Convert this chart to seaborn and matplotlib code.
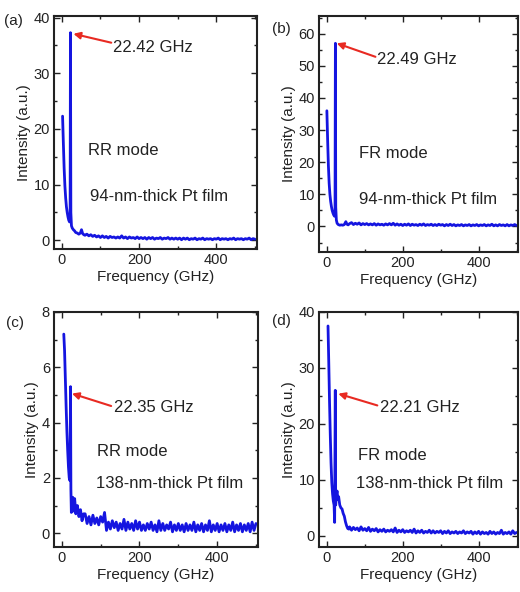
import numpy as np
import pandas as pd
import matplotlib
matplotlib.use("Agg")
import matplotlib.pyplot as plt
import seaborn as sns
from matplotlib.ticker import MultipleLocator

# Tail grid shared by the four spectra (GHz)
tail_freq = [60, 65, 70, 75, 80, 85, 90, 95, 100, 105,
             110, 115, 120, 125, 130, 135, 140, 145, 150, 155,
             160, 165, 170, 175, 180, 185, 190, 195, 200, 205,
             210, 215, 220, 225, 230, 235, 240, 245, 250, 255,
             260, 265, 270, 275, 280, 285, 290, 295, 300, 305,
             310, 315, 320, 325, 330, 335, 340, 345, 350, 355,
             360, 365, 370, 375, 380, 385, 390, 395, 400, 405,
             410, 415, 420, 425, 430, 435, 440, 445, 450, 455,
             460, 465, 470, 475, 480, 485, 490, 495, 500]

# (a) RR mode, 94 nm
a_freq = [2, 4, 6, 8, 10, 12, 14, 16, 18, 20, 21.5, 22.42, 23.4, 25, 27, 30,
          33, 36, 40, 44, 48, 51, 54, 57]
a_int = [22.3, 17.5, 13.0, 9.8, 7.6, 6.0, 5.0, 4.2, 3.6, 3.3, 3.4, 37.3, 5.0,
         2.6, 2.2, 1.9, 1.7, 1.4, 1.3, 1.1, 1.3, 1.9, 1.2, 1.0]
a_tail = [0.9, 1.1, 0.8, 1.0, 0.7, 0.9, 0.6, 0.8, 0.5, 0.8,
          0.5, 0.7, 0.4, 0.7, 0.5, 0.6, 0.4, 0.6, 0.4, 0.8,
          0.4, 0.6, 0.3, 0.6, 0.4, 0.5, 0.3, 0.6, 0.3, 0.5,
          0.3, 0.5, 0.2, 0.5, 0.3, 0.5, 0.2, 0.4, 0.3, 0.5,
          0.2, 0.4, 0.3, 0.5, 0.2, 0.4, 0.2, 0.4, 0.2, 0.4,
          0.1, 0.4, 0.2, 0.4, 0.1, 0.3, 0.2, 0.4, 0.1, 0.3,
          0.2, 0.4, 0.1, 0.3, 0.2, 0.3, 0.1, 0.3, 0.2, 0.4,
          0.1, 0.3, 0.2, 0.3, 0.1, 0.3, 0.2, 0.4, 0.1, 0.3,
          0.2, 0.3, 0.1, 0.3, 0.2, 0.4, 0.1, 0.3, 0.2]

# (b) FR mode, 94 nm
b_freq = [0, 2, 4, 6, 8, 10, 12, 14, 16, 18, 20, 21.5, 22.49, 23.4, 25, 27, 30,
          34, 38, 42, 46, 50, 53, 56]
b_int = [36, 27, 19, 13.5, 10, 7.8, 6.2, 5.0, 4.2, 3.6, 3.2, 3.5, 57, 6.0, 2.0,
         1.0, 0.6, 0.4, 0.5, 0.4, 0.6, 1.5, 0.7, 0.5]
b_tail = [0.9, 1.2, 0.6, 1.0, 0.7, 1.1, 0.5, 0.9, 0.6, 0.9,
          0.5, 0.8, 0.5, 0.9, 0.4, 0.8, 0.5, 0.7, 0.4, 0.8,
          0.5, 0.9, 0.5, 1.0, 0.4, 0.8, 0.4, 0.7, 0.3, 0.7,
          0.4, 0.8, 0.3, 0.7, 0.4, 0.6, 0.3, 0.7, 0.4, 0.8,
          0.3, 0.6, 0.4, 0.7, 0.3, 0.6, 0.3, 0.7, 0.4, 0.6,
          0.2, 0.6, 0.3, 0.7, 0.3, 0.6, 0.2, 0.5, 0.3, 0.6,
          0.2, 0.5, 0.3, 0.6, 0.2, 0.5, 0.3, 0.6, 0.2, 0.5,
          0.3, 0.6, 0.2, 0.5, 0.3, 0.7, 0.2, 0.5, 0.2, 0.6,
          0.3, 0.5, 0.2, 0.6, 0.2, 0.5, 0.3, 0.6, 0.3]

# (c) RR mode, 138 nm
c_freq = [5, 7, 9, 11, 13, 15, 17, 19, 21, 22.35, 23.3, 24.5, 26, 28, 30, 33,
          36, 40, 44, 48, 52, 56]
c_int = [7.2, 6.6, 5.6, 4.6, 3.7, 3.0, 2.4, 2.0, 1.9, 5.3, 1.6, 0.75, 1.1, 1.3,
         0.8, 1.25, 0.7, 1.0, 0.6, 0.85, 0.45, 0.7]
c_tail = [0.7, 0.35, 0.6, 0.3, 0.65, 0.35, 0.55, 0.3, 0.6, 0.4,
          0.75, 0.1, 0.4, 0.15, 0.45, 0.2, 0.4, 0.1, 0.35, 0.15,
          0.5, 0.1, 0.4, 0.15, 0.35, 0.1, 0.45, 0.15, 0.4, 0.1,
          0.3, 0.1, 0.35, 0.15, 0.4, 0.1, 0.3, 0.05, 0.45, 0.1,
          0.35, 0.1, 0.3, 0.15, 0.4, 0.05, 0.3, 0.1, 0.35, 0.1,
          0.3, 0.05, 0.35, 0.1, 0.3, 0.1, 0.4, 0.05, 0.3, 0.1,
          0.35, 0.05, 0.3, 0.1, 0.45, 0.05, 0.3, 0.1, 0.35, 0.05,
          0.3, 0.1, 0.35, 0.05, 0.3, 0.1, 0.4, 0.05, 0.3, 0.1,
          0.35, 0.05, 0.3, 0.1, 0.35, 0.05, 0.4, 0.1, 0.35]

# (d) FR mode, 138 nm
d_freq = [3, 5, 7, 9, 11, 13, 15, 17, 19, 20.5, 22.21, 23.2, 25, 27, 29, 31,
          34, 37, 40, 43, 46, 49, 52, 55, 58]
d_int = [37.5, 31, 24, 18, 13, 9.5, 7.5, 6.2, 5.5, 2.4, 26, 5.5, 7.5, 8.0, 6.5,
         7.0, 5.5, 5.0, 4.8, 4.0, 3.5, 2.5, 1.8, 1.3, 1.2]
d_tail = [1.6, 1.0, 1.5, 1.1, 1.4, 0.9, 1.6, 1.0, 1.3, 0.9,
          1.5, 0.8, 1.2, 0.9, 1.3, 0.7, 1.1, 0.8, 1.2, 0.7,
          1.0, 0.8, 1.1, 0.7, 1.4, 0.6, 1.0, 0.7, 1.1, 0.6,
          0.9, 0.7, 1.0, 0.6, 1.2, 0.5, 0.9, 0.6, 1.0, 0.5,
          0.8, 0.6, 1.0, 0.5, 0.9, 0.5, 0.8, 0.6, 0.9, 0.4,
          0.8, 0.5, 0.9, 0.4, 0.7, 0.5, 0.8, 0.4, 0.7, 0.5,
          0.9, 0.4, 0.7, 0.5, 0.8, 0.3, 0.7, 0.4, 0.8, 0.3,
          0.7, 0.4, 0.6, 0.3, 0.8, 0.4, 0.7, 0.3, 0.6, 0.4,
          1.0, 0.3, 0.6, 0.4, 0.7, 0.3, 0.9, 0.4, 0.6]

peak_labels = ["22.42 GHz", "22.49 GHz", "22.35 GHz", "22.21 GHz"]
mode_labels = ["RR mode", "FR mode", "RR mode", "FR mode"]
film_labels = ["94-nm-thick Pt film", "94-nm-thick Pt film",
               "138-nm-thick Pt film", "138-nm-thick Pt film"]
panel_labels = ["(a)", "(b)", "(c)", "(d)"]

sns.set_style("ticks")
plt.rcParams['font.family'] = ['Liberation Sans', 'DejaVu Sans']
plt.rcParams['text.color'] = '#222222'
plt.rcParams['axes.labelcolor'] = '#222222'

fig = plt.figure(figsize=(5.2, 5.92), dpi=100)

# Axes boxes in figure fraction
boxes = [[0.104, 0.580, 0.390, 0.393],
         [0.614, 0.574, 0.383, 0.399],
         [0.104, 0.076, 0.392, 0.397],
         [0.614, 0.076, 0.383, 0.397]]
ylims = [(-1.5, 40.3), (-8, 65.5), (-0.5, 8.0), (-2, 40)]
ymajor = [10, 10, 2, 10]
yminor = [5, 5, 1, 5]
# text placement (data coords): mode, film, peak label, arrow tip, arrow tail
mode_pos = [(69, 16.2), (86, 22.8), (91, 2.97), (81, 14.4)]
film_pos = [(72, 7.9), (84, 8.4), (88, 1.78), (76, 9.4)]
peak_pos = [(133, 34.6), (133, 51.9), (135, 4.54), (139, 22.9)]
tip_pos = [(30, 37.1), (26, 57.0), (26, 5.05), (30, 25.4)]
tail_pos = [(128, 35.5), (128, 52.8), (127, 4.6), (133, 23.3)]
label_pos = [(0.008, 0.976), (0.523, 0.963), (0.012, 0.467), (0.523, 0.470)]

spectra = [(a_freq, a_int, a_tail), (b_freq, b_int, b_tail),
           (c_freq, c_int, c_tail), (d_freq, d_int, d_tail)]

blue = '#1515e0'
red = '#e82a22'

for i, (freq, inten, tail) in enumerate(spectra):
    ax = fig.add_axes(boxes[i])
    df = pd.DataFrame({"Frequency": list(freq) + tail_freq,
                       "Intensity": list(inten) + tail})
    sns.lineplot(data=df, x="Frequency", y="Intensity", ax=ax, color=blue,
                 linewidth=2.0, sort=False, legend=False)

    ax.set_xlim(-20, 505)
    ax.set_ylim(*ylims[i])
    ax.xaxis.set_major_locator(MultipleLocator(200))
    ax.xaxis.set_minor_locator(MultipleLocator(100))
    ax.yaxis.set_major_locator(MultipleLocator(ymajor[i]))
    ax.yaxis.set_minor_locator(MultipleLocator(yminor[i]))
    ax.tick_params(which='both', direction='in', top=True, right=True,
                   width=1.0, colors='#222222', labelsize=10.5, pad=3)
    ax.tick_params(which='major', length=4)
    ax.tick_params(which='minor', length=2.5)
    for sp in ax.spines.values():
        sp.set_linewidth(1.5)
        sp.set_color('#222222')

    ax.set_xlabel("Frequency (GHz)", fontsize=11, labelpad=2)
    ax.set_ylabel("Intensity (a.u.)", fontsize=11, labelpad=2)

    ax.text(*mode_pos[i], mode_labels[i], fontsize=12, va='center', ha='left')
    ax.text(*film_pos[i], film_labels[i], fontsize=12, va='center', ha='left')
    ax.text(*peak_pos[i], peak_labels[i], fontsize=12, va='center', ha='left')
    ax.annotate("", xy=tip_pos[i], xytext=tail_pos[i],
                arrowprops=dict(arrowstyle='-|>', color=red, lw=1.5,
                                mutation_scale=10, shrinkA=0, shrinkB=0))

    fig.text(*label_pos[i], panel_labels[i], fontsize=11, va='top', ha='left')

fig.savefig("out.png", dpi=100)
